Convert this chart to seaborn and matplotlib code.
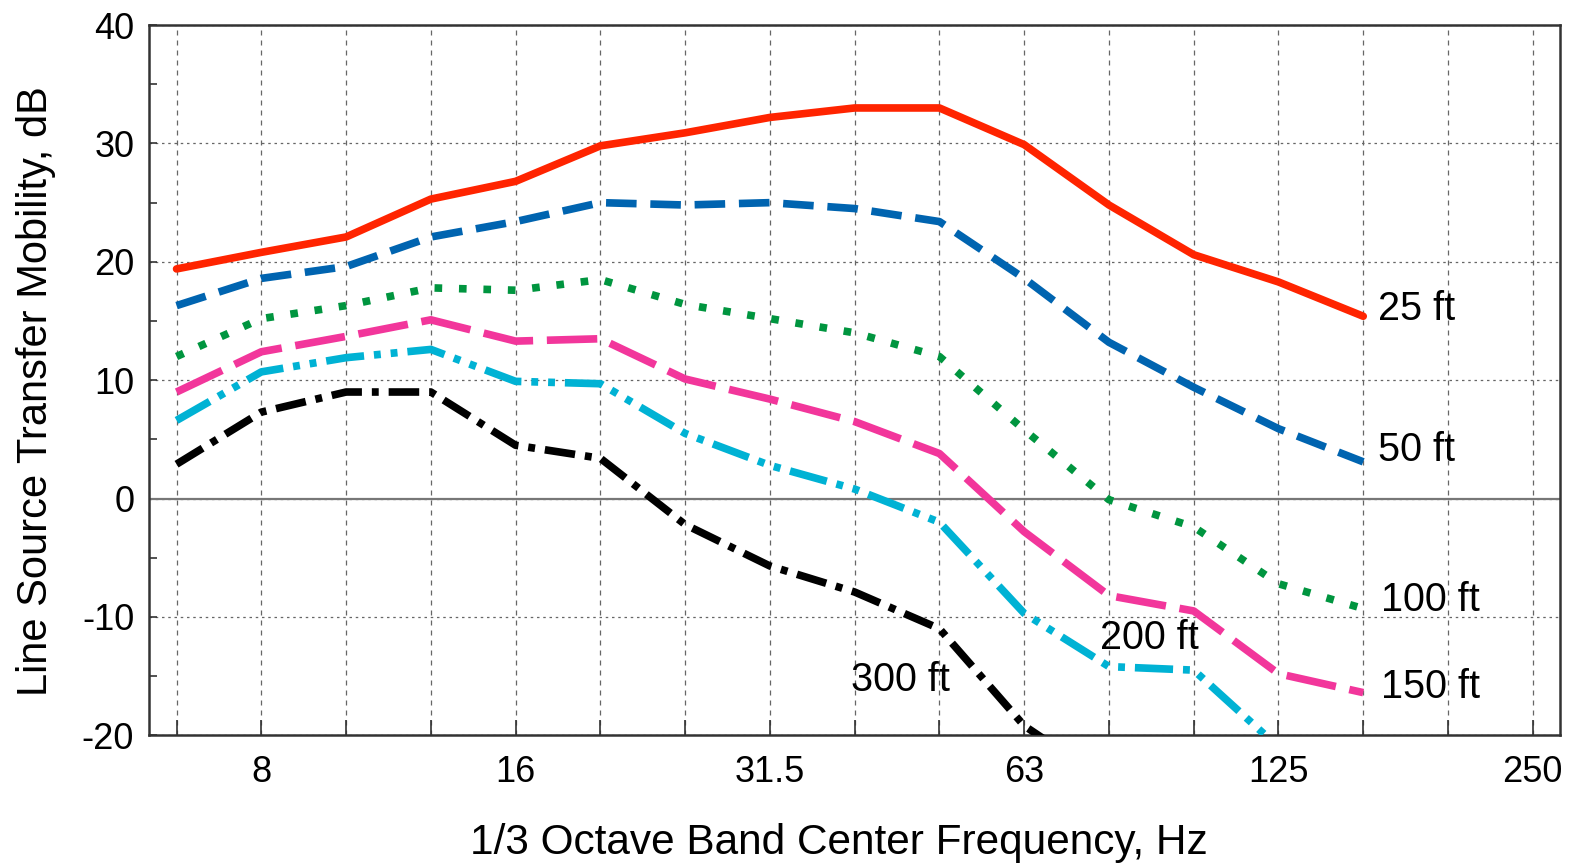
import pandas as pd
import seaborn as sns
import matplotlib.pyplot as plt
from matplotlib.ticker import MultipleLocator

# 1/3 octave bands, plotted at equal spacing
bands = ["6.3", "8", "10", "12.5", "16", "20", "25", "31.5", "40",
         "50", "63", "80", "100", "125", "160", "200", "250"]
labelled = {"8", "16", "31.5", "63", "125", "250"}

ft25 = [19.4, 20.8, 22.1, 25.3, 26.8, 29.8, 30.9, 32.2, 33.0, 33.0, 29.9, 24.8, 20.6, 18.3, 15.4]
ft50 = [16.3, 18.6, 19.6, 22.1, 23.4, 25.0, 24.8, 25.0, 24.5, 23.4, 18.6, 13.2, 9.4, 5.9, 3.1]
ft100 = [12.0, 15.2, 16.3, 17.8, 17.6, 18.5, 16.4, 15.2, 14.0, 12.0, 5.8, -0.1, -2.4, -7.2, -9.3]
ft150 = [9.0, 12.4, 13.7, 15.1, 13.3, 13.5, 10.1, 8.4, 6.5, 3.8, -2.8, -8.2, -9.5, -14.8, -16.4]
ft200 = [6.6, 10.7, 11.9, 12.6, 9.9, 9.7, 5.5, 2.8, 0.8, -2.0, -9.7, -14.2, -14.5, -21.0]
ft300 = [2.9, 7.3, 9.0, 9.0, 4.5, 3.4, -2.2, -5.7, -7.9, -11.0, -19.2, -24.0]

series = {"25 ft": ft25, "50 ft": ft50, "100 ft": ft100,
          "150 ft": ft150, "200 ft": ft200, "300 ft": ft300}

rows = []
for name, vals in series.items():
    for i, v in enumerate(vals):
        rows.append({"band": i, "db": v, "dist": name})
df = pd.DataFrame(rows)

colors = {"25 ft": "#ff2400", "50 ft": "#0064b0", "100 ft": "#00953f",
          "150 ft": "#f2369b", "200 ft": "#00b2d4", "300 ft": "#000000"}
dashes = {"25 ft": "", "50 ft": (4.0, 1.8), "100 ft": (1.0, 2.2),
          "150 ft": (6.6, 1.8), "200 ft": (5.0, 1.3, 0.9, 1.3, 0.9, 1.3),
          "300 ft": (4.0, 1.3, 0.9, 1.3)}

# where the curve labels sit (band index, dB)
label_pos = {"25 ft": (14.18, 16.0), "50 ft": (14.18, 4.1), "100 ft": (14.21, -8.6),
             "150 ft": (14.21, -15.9), "200 ft": (10.9, -11.8), "300 ft": (7.96, -15.3)}

sns.set_theme(style="white")
plt.rcParams["font.family"] = ["Liberation Sans", "DejaVu Sans"]
plt.rcParams["axes.unicode_minus"] = False
plt.rcParams["text.color"] = "black"
plt.rcParams["axes.labelcolor"] = "black"

fig = plt.figure(figsize=(15.83, 8.66), dpi=100)
ax = fig.add_axes([0.0944, 0.151, 0.891, 0.820])

ax.axhline(0, color="#777777", lw=1.6, zorder=1)

sns.lineplot(data=df, x="band", y="db", hue="dist", style="dist",
             palette=colors, dashes=dashes, linewidth=5.5, legend=False,
             estimator=None, sort=False, ax=ax, zorder=3)
for ln in ax.lines:
    ln.set_dash_capstyle("butt")

for name, (x, y) in label_pos.items():
    ax.text(x, y, name, fontsize=28.5, va="center", ha="left", color="black")

ax.set_xlim(-0.32, 16.32)
ax.set_ylim(-20, 40)
ax.set_xticks(range(len(bands)))
ax.set_xticklabels([b if b in labelled else "" for b in bands])
ax.yaxis.set_major_locator(MultipleLocator(10))
ax.yaxis.set_minor_locator(MultipleLocator(5))

ax.grid(axis="x", which="major", ls=(0, (4, 4)), color="#666666", lw=0.9)
ax.grid(axis="y", which="major", ls=(0, (2, 3)), color="#666666", lw=0.9)

ax.tick_params(axis="x", which="major", direction="in", length=11, width=1.2,
               pad=14, labelsize=26, bottom=True, top=False,
               color="#333333", labelcolor="black")
ax.tick_params(axis="y", which="both", direction="in", length=6, width=1.2,
               pad=11, labelsize=26, left=True, right=False,
               color="#333333", labelcolor="black")

for sp in ax.spines.values():
    sp.set_color("#333333")
    sp.set_linewidth(1.8)

ax.set_xlabel("1/3 Octave Band Center Frequency, Hz", fontsize=30.5, color="black")
ax.set_ylabel("Line Source Transfer Mobility, dB", fontsize=30, color="black")
ax.xaxis.set_label_coords(0.489, -0.124)
ax.yaxis.set_label_coords(-0.066, 0.485)

fig.savefig("out.png", dpi=100)
